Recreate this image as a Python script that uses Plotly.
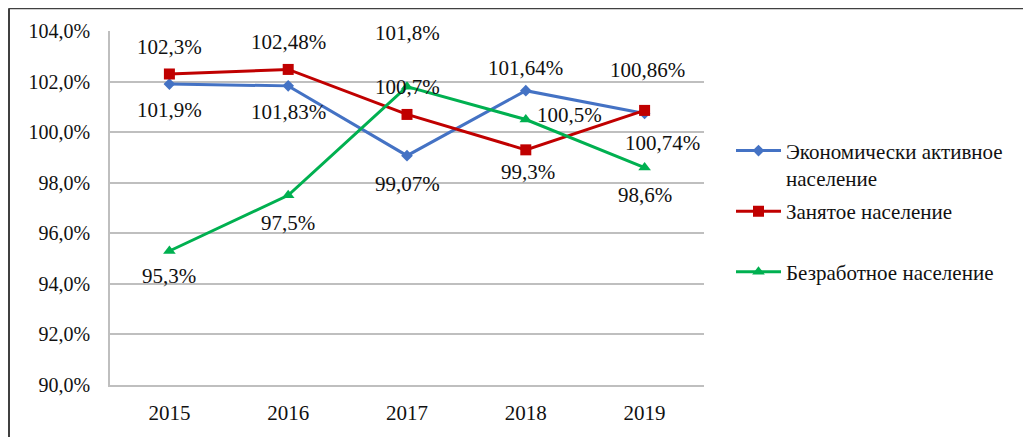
import plotly.graph_objects as go

years = ["2015", "2016", "2017", "2018", "2019"]
active = [101.9, 101.83, 99.07, 101.64, 100.74]
employed = [102.3, 102.48, 100.7, 99.3, 100.86]
unemployed = [95.3, 97.5, 101.8, 100.5, 98.6]

names = ["Экономически активное<br>население", "Занятое население<br> ", "Безработное население"]
colors = ["#4472C4", "#C00000", "#00B050"]
symbols = ["diamond", "square", "triangle-up"]
msizes = [9, 11, 11]

# label offsets (xshift, yshift) in px for each point
offsets = [
    [(0, -26), (0, -26), (0, -28), (0, 23), (18, -30)],
    [(0, 27), (0, 27), (0, 27), (2, -22), (3, 40)],
    [(0, -25), (0, -28), (0, 54), (44, 5), (0, -27)],
]

FONT = "'Liberation Serif', 'Times New Roman', 'DejaVu Serif', serif"

def fmt(v):
    return (("%g" % v).replace(".", ",")) + "%"

# page body has an 8px margin: shift everything by that
M = 8
W, H = 1031 - M, 437 - M
L, R, T, B = 110 - M, 704 - M, 31 - M, 387 - M
pw, ph = R - L, B - T
def px(x):
    return (x - M - L) / pw
def py(y):
    return (B - (y - M)) / ph

fig = go.Figure()
series = [active, employed, unemployed]
annots = []
for i, vals in enumerate(series):
    fig.add_trace(go.Scatter(
        x=years, y=vals, mode="lines+markers", name=names[i], legendgroup="g%d" % i,
        line=dict(color=colors[i], width=3),
        marker=dict(symbol=symbols[i], size=msizes[i], color=colors[i]),
    ))
    for j, v in enumerate(vals):
        dx, dy = offsets[i][j]
        annots.append(dict(x=j, y=v, xref="x", yref="y", text=fmt(v), showarrow=False,
                           xshift=dx, yshift=dy,
                           font=dict(family=FONT, size=21, color="#111111")))

shapes = [
    dict(type="line", xref="paper", yref="paper", x0=px(9), x1=px(1040), y0=py(8), y1=py(8),
         line=dict(color="#404040", width=2)),
    dict(type="line", xref="paper", yref="paper", x0=px(9), x1=px(9), y0=py(8), y1=py(445),
         line=dict(color="#404040", width=2)),
]

fig.update_layout(
    width=W, height=H,
    margin=dict(l=L, r=W - R, t=T, b=H - B),
    paper_bgcolor="white", plot_bgcolor="white",
    separators=", ",
    font=dict(family=FONT, color="#111111"),
    showlegend=True,
    annotations=annots,
    shapes=shapes,
    legend=dict(x=px(731), y=py(131), xanchor="left", yanchor="top",
                font=dict(family=FONT, size=21, color="#111111"),
                valign="top", itemwidth=45, tracegroupgap=3,
                bgcolor="rgba(0,0,0,0)"),
    xaxis=dict(type="category", range=[-0.5, 4.5], showgrid=False, zeroline=False,
               showline=True, linecolor="#BFBFBF", linewidth=1.5, ticks="",
               tickfont=dict(family=FONT, size=21, color="#111111"), ticklabelstandoff=8),
    yaxis=dict(range=[90, 104], dtick=2, tickformat=".1f", ticksuffix="%",
               showgrid=True, gridcolor="#BFBFBF", gridwidth=1.5, zeroline=False,
               showline=True, linecolor="#BFBFBF", linewidth=1.5, ticks="",
               tickfont=dict(family=FONT, size=20, color="#111111"), ticklabelstandoff=14),
)

fig.write_html("out.html")
